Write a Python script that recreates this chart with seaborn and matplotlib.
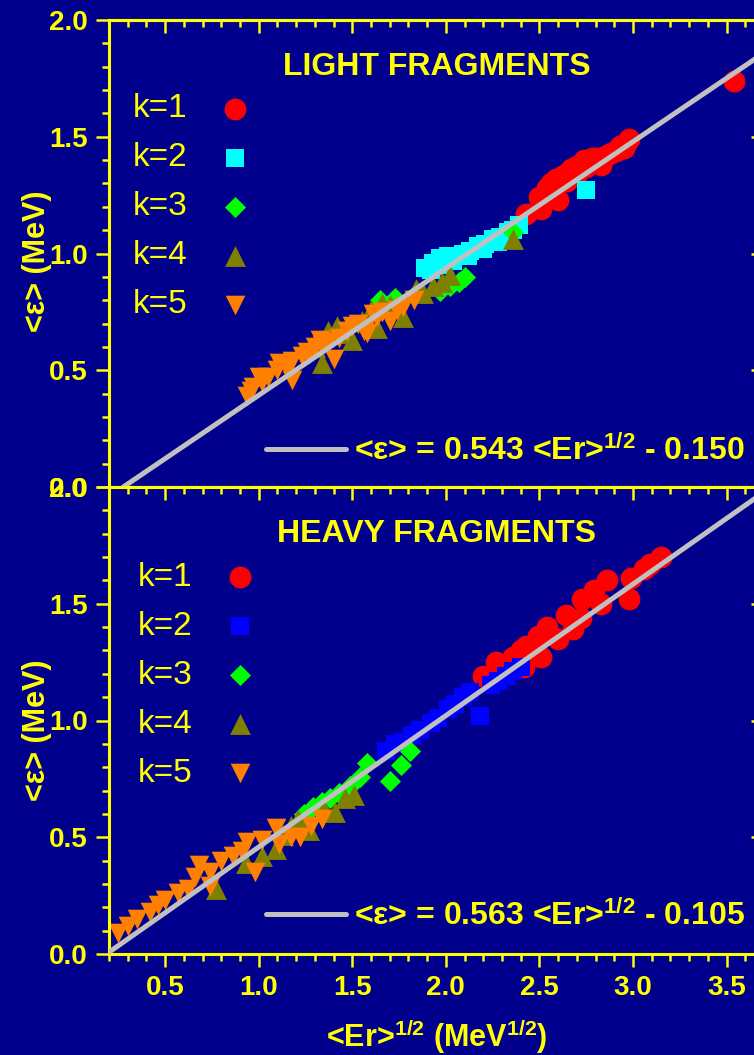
import numpy as np
import pandas as pd
import matplotlib
matplotlib.use("Agg")
import matplotlib.pyplot as plt
import seaborn as sns
from matplotlib.ticker import MultipleLocator, FixedLocator

# ---------------- data ----------------
K_LABELS = ["k=1", "k=2", "k=3", "k=4", "k=5"]

# light fragments: <Er>^(1/2) and <eps> for each k
light_k1_x = [2.43, 2.51, 2.50, 2.60, 2.54, 2.56, 2.59, 2.62, 2.64, 2.67, 2.69, 2.71,
              2.74, 2.76, 2.78, 2.80, 2.83, 2.86, 2.88, 2.91, 2.93, 2.96, 2.98, 3.54,
              2.58, 2.65, 2.70, 2.75, 2.82, 2.95]
light_k1_y = [1.17, 1.19, 1.24, 1.23, 1.28, 1.30, 1.32, 1.33, 1.34, 1.36, 1.37, 1.38,
              1.40, 1.40, 1.41, 1.41, 1.38, 1.42, 1.43, 1.44, 1.46, 1.47, 1.49, 1.74,
              1.27, 1.31, 1.34, 1.37, 1.40, 1.45]
light_k2_x = [1.89, 1.93, 1.97, 2.01, 2.06, 2.09, 2.13, 2.17, 2.21, 2.25, 2.29, 2.33,
              2.36, 2.39, 2.75, 1.92, 1.98, 2.04, 2.12, 2.20, 2.28]
light_k2_y = [0.94, 0.96, 0.98, 0.99, 0.99, 1.00, 1.01, 1.03, 1.04, 1.06, 1.07, 1.09,
              1.10, 1.12, 1.27, 0.93, 0.95, 0.97, 0.99, 1.02, 1.05]
light_k3_x = [1.65, 1.73, 1.97, 2.02, 2.07, 2.10, 2.36]
light_k3_y = [0.80, 0.81, 0.84, 0.86, 0.88, 0.90, 1.09]
light_k4_x = [1.34, 1.30, 1.37, 1.42, 1.50, 1.60, 1.63, 1.66, 1.77, 1.84, 1.93, 2.02,
              2.36, 1.45, 1.55, 1.70, 1.88, 1.98]
light_k4_y = [0.53, 0.60, 0.67, 0.69, 0.63, 0.76, 0.68, 0.79, 0.73, 0.85, 0.86, 0.91,
              1.06, 0.66, 0.71, 0.78, 0.83, 0.88]
light_k5_x = [0.94, 0.97, 1.00, 1.02, 1.10, 1.11, 1.18, 1.18, 1.26, 1.27, 1.33, 1.34,
              1.40, 1.43, 1.50, 1.56, 1.58, 1.61, 1.63, 1.70, 1.77, 1.83,
              0.96, 1.05, 1.15, 1.23, 1.30, 1.37, 1.47, 1.53, 1.66, 1.74]
light_k5_y = [0.39, 0.43, 0.47, 0.45, 0.50, 0.53, 0.54, 0.46, 0.58, 0.57, 0.63, 0.61,
              0.55, 0.64, 0.69, 0.67, 0.66, 0.74, 0.73, 0.71, 0.77, 0.80,
              0.41, 0.47, 0.51, 0.56, 0.60, 0.62, 0.67, 0.70, 0.75, 0.76]

# heavy fragments
heavy_k1_x = [2.20, 2.27, 2.36, 2.40, 2.42, 2.43, 2.47, 2.49, 2.51, 2.54, 2.60, 2.64,
              2.68, 2.72, 2.73, 2.79, 2.83, 2.86, 2.98, 2.99, 3.06, 3.09, 3.15]
heavy_k1_y = [1.19, 1.25, 1.27, 1.30, 1.23, 1.32, 1.29, 1.36, 1.27, 1.40, 1.35, 1.45,
              1.39, 1.44, 1.52, 1.56, 1.50, 1.60, 1.52, 1.61, 1.65, 1.67, 1.70]
heavy_k2_x = [1.68, 1.73, 1.77, 1.82, 1.86, 1.92, 1.96, 2.01, 2.05, 2.09, 2.13, 2.18,
              2.24, 2.28, 2.32, 2.36, 2.40]
heavy_k2_y = [0.87, 0.90, 0.91, 0.94, 0.96, 0.99, 1.01, 1.05, 1.07, 1.10, 1.12, 1.02,
              1.15, 1.17, 1.19, 1.21, 1.23]
heavy_k3_x = [1.24, 1.29, 1.34, 1.38, 1.43, 1.49, 1.54, 1.58, 1.70, 1.76, 1.81]
heavy_k3_y = [0.60, 0.63, 0.65, 0.67, 0.69, 0.72, 0.76, 0.82, 0.74, 0.81, 0.87]
heavy_k4_x = [0.77, 0.93, 1.02, 1.09, 1.13, 1.17, 1.21, 1.27, 1.35, 1.41, 1.46, 1.51]
heavy_k4_y = [0.28, 0.39, 0.42, 0.45, 0.51, 0.55, 0.58, 0.53, 0.62, 0.61, 0.67, 0.68]
heavy_k5_x = [0.25, 0.30, 0.35, 0.42, 0.46, 0.50, 0.57, 0.62, 0.66, 0.68, 0.74, 0.74,
              0.80, 0.86, 0.91, 0.94, 0.98, 1.02, 1.09, 1.11, 1.17, 1.22, 1.28, 1.34]
heavy_k5_y = [0.09, 0.12, 0.15, 0.18, 0.21, 0.23, 0.26, 0.28, 0.33, 0.38, 0.35, 0.29,
              0.40, 0.42, 0.44, 0.48, 0.35, 0.49, 0.54, 0.47, 0.50, 0.50, 0.55, 0.58]

# linear fits  <eps> = a <Er>^(1/2) + b
light_fit = (0.543, -0.150)
heavy_fit = (0.563, -0.105)

x_ticks = [0.5, 1.0, 1.5, 2.0, 2.5, 3.0, 3.5]
y_ticks = [0.0, 0.5, 1.0, 1.5, 2.0]
x_range = (0.2, 3.7)
y_range = (0.0, 2.0)

# ---------------- style ----------------
sns.set_style("ticks")
BG = "#00008C"
FG = "#FFFF00"
plt.rcParams["font.family"] = ["Liberation Sans", "DejaVu Sans"]
plt.rcParams["font.weight"] = "bold"
plt.rcParams["mathtext.fontset"] = "custom"
plt.rcParams["mathtext.rm"] = "Liberation Sans"
plt.rcParams["mathtext.bf"] = "Liberation Sans:bold"
plt.rcParams["mathtext.it"] = "Liberation Sans:italic"
plt.rcParams["mathtext.default"] = "bf"

markers = ["o", "s", "D", "^", "v"]
sizes = [245, 165, 115, 225, 200]
light_colors = ["#FF0000", "#00FFFF", "#00FF00", "#808000", "#FF8000"]
heavy_colors = ["#FF0000", "#0000FF", "#00FF00", "#808000", "#FF8000"]

W, H = 754, 1055
fig = plt.figure(figsize=(W / 100, H / 100), dpi=100, facecolor=BG)
left, right = 109, 764
ax_top = fig.add_axes([left / W, 1 - 487 / H, (right - left) / W, (487 - 20) / H])
ax_bot = fig.add_axes([left / W, 1 - 954 / H, (right - left) / W, (954 - 487) / H])

panels = [
    (ax_top, "LIGHT FRAGMENTS", light_colors, light_fit,
     [(light_k1_x, light_k1_y), (light_k2_x, light_k2_y), (light_k3_x, light_k3_y),
      (light_k4_x, light_k4_y), (light_k5_x, light_k5_y)],
     (0.0366, 0.843), (0.971, 0.043), 0.484),
    (ax_bot, "HEAVY FRAGMENTS", heavy_colors, heavy_fit,
     [(heavy_k1_x, heavy_k1_y), (heavy_k2_x, heavy_k2_y), (heavy_k3_x, heavy_k3_y),
      (heavy_k4_x, heavy_k4_y), (heavy_k5_x, heavy_k5_y)],
     (0.044, 0.840), (0.971, 0.047), 0.480),
]

for ax, title, colors, fit, series, leg_pos, eq_pos, ylab_y in panels:
    ax.set_facecolor(BG)
    handles = []
    for (xs, ys), lab, m, c, s in zip(series, K_LABELS, markers, colors, sizes):
        sns.scatterplot(x=xs, y=ys, ax=ax, marker=m, color=c, s=s,
                        linewidth=0, legend=False, zorder=2)
        handles.append(ax.collections[-1])

    a, b = fit
    x0 = max(x_range[0], -b / a)
    fit_x = np.array([x0, x_range[1]])
    sns.lineplot(x=fit_x, y=a * fit_x + b, ax=ax, color="#C0C0C0", lw=3.6,
                 zorder=5, legend=False)
    fit_line = ax.lines[-1]
    fit_line.set_solid_capstyle("round")

    ax.set_xlim(*x_range)
    ax.set_ylim(*y_range)
    ax.xaxis.set_major_locator(FixedLocator(x_ticks))
    ax.yaxis.set_major_locator(FixedLocator(y_ticks))
    ax.xaxis.set_minor_locator(MultipleLocator(0.1))
    ax.yaxis.set_minor_locator(MultipleLocator(0.1))
    ax.xaxis.set_major_formatter("{x:.1f}")
    ax.yaxis.set_major_formatter("{x:.1f}")
    for sp in ax.spines.values():
        sp.set_color(FG)
        sp.set_linewidth(2.2)
        sp.set_visible(True)
    ax.tick_params(which="major", direction="out", length=9.4, width=1.8,
                   color=FG, labelcolor=FG, labelsize=20, pad=6)
    ax.tick_params(which="minor", direction="out", length=5, width=1.8, color=FG)

    # inward ticks on the top and right edges
    sec_x = ax.secondary_xaxis("top")
    sec_x.xaxis.set_major_locator(FixedLocator(x_ticks))
    sec_x.xaxis.set_minor_locator(MultipleLocator(0.1))
    sec_x.tick_params(which="major", direction="in", length=9.4, width=1.8,
                      color=FG, labeltop=False)
    sec_x.tick_params(which="minor", direction="in", length=5, width=1.8, color=FG)
    sec_x.spines["top"].set_color(FG)
    sec_x.spines["top"].set_linewidth(2.2)
    sec_y = ax.secondary_yaxis("right")
    sec_y.yaxis.set_major_locator(FixedLocator(y_ticks))
    sec_y.yaxis.set_minor_locator(MultipleLocator(0.1))
    sec_y.tick_params(which="major", direction="in", length=9.4, width=1.8,
                      color=FG, labelright=False)
    sec_y.tick_params(which="minor", direction="in", length=5, width=1.8, color=FG)
    sec_y.spines["right"].set_color(FG)
    sec_y.spines["right"].set_linewidth(2.2)

    ax.text(0.5, 0.882, title, transform=ax.transAxes, ha="center", va="baseline",
            fontsize=23, fontweight="bold", color=FG)

    leg = ax.legend(handles, K_LABELS, loc="upper left", bbox_to_anchor=leg_pos,
                    borderaxespad=0, borderpad=0, markerfirst=False,
                    handlelength=1.0, handletextpad=0.91, labelspacing=0.54,
                    frameon=False, scatterpoints=1,
                    prop={"size": 24, "weight": "normal"}, labelcolor=FG)
    ax.add_artist(leg)

    eq = "<\u03b5> = %.3f <Er>$^{1/2}$ - %.3f" % (a, -b)
    ax.legend([fit_line], [eq], loc="lower right", bbox_to_anchor=eq_pos,
              borderaxespad=0, borderpad=0, handlelength=2.5, handletextpad=0.25,
              frameon=False, prop={"size": 23, "weight": "bold"}, labelcolor=FG)

    ax.set_ylabel("<\u03b5> (MeV)", fontsize=22, fontweight="bold", color=FG)
    ax.yaxis.label.set(ha="center", va="center", rotation_mode="anchor")
    ax.yaxis.set_label_coords(-0.110, ylab_y)
    ax.set_xlabel("")

ax_top.tick_params(labelbottom=False)
ax_bot.set_xlabel("<Er>$^{1/2}$ (MeV$^{1/2}$)", fontsize=22, fontweight="bold", color=FG)
ax_bot.xaxis.label.set(va="center")
ax_bot.xaxis.set_label_coords(0.5, -0.176)

fig.savefig("out.png", dpi=100, facecolor=BG)
